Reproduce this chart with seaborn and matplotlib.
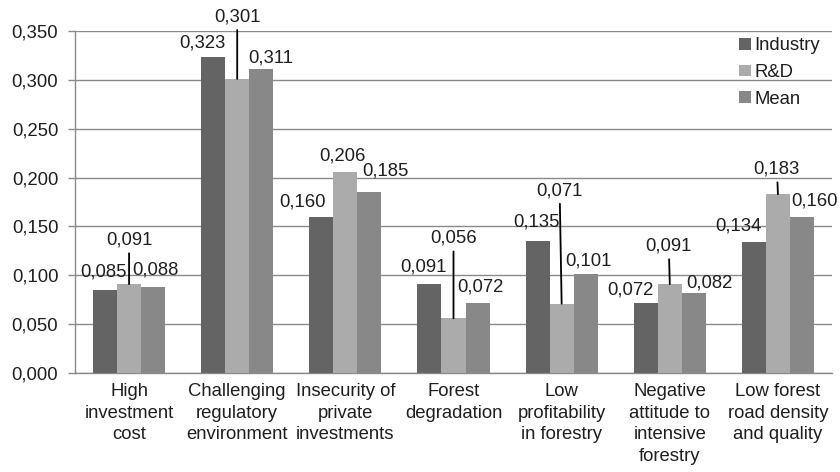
import matplotlib
matplotlib.use("Agg")
import matplotlib.pyplot as plt
from matplotlib.ticker import FuncFormatter, FixedLocator
import seaborn as sns
import pandas as pd

# Barrier categories and scores per respondent group
categories = [
    "High\ninvestment\ncost",
    "Challenging\nregulatory\nenvironment",
    "Insecurity of\nprivate\ninvestments",
    "Forest\ndegradation",
    "Low\nprofitability\nin forestry",
    "Negative\nattitude to\nintensive\nforestry",
    "Low forest\nroad density\nand quality",
]
series = ["Industry", "R&D", "Mean"]
industry = [0.085, 0.323, 0.160, 0.091, 0.135, 0.072, 0.134]
rnd = [0.091, 0.301, 0.206, 0.056, 0.071, 0.091, 0.183]
mean = [0.088, 0.311, 0.185, 0.072, 0.101, 0.082, 0.160]
y_ticks = [0.0, 0.05, 0.10, 0.15, 0.20, 0.25, 0.30, 0.35]

colors = ["#646464", "#ababab", "#888888"]

# Label placement (pixel offsets of each value label from its bar top)
label_offsets = {
    "Industry": [(-2, 18), (-11, 14), (-19, 15), (-6, 17), (-1, 19), (-15, 13), (-15, 16)],
    "R&D": [(0, 44), (0, 62), (-3, 16), (0, 80), (-2, 113), (-1, 38), (-1, 25)],
    "Mean": [(2, 17), (10, 11), (16, 21), (3, 16), (3, 13), (16, 10), (13, 16)],
}
leader = {"Industry": [False] * 7,
          "R&D": [True, True, False, True, True, True, True],
          "Mean": [False] * 7}

values = {"Industry": industry, "R&D": rnd, "Mean": mean}
df = pd.DataFrame({
    "category": categories * 3,
    "series": [s for s in series for _ in categories],
    "value": industry + rnd + mean,
})

sns.set_theme(style="white")
plt.rcParams["font.family"] = ["Liberation Sans", "DejaVu Sans"]
text_color = "#1e1e1e"
grid_color = "#8a8a8a"
fs = 13.3

fig = plt.figure(figsize=(8.4, 4.72), dpi=100)
ax = fig.add_axes([75 / 840, 1 - 373 / 472, 757 / 840, 342 / 472])

sns.barplot(data=df, x="category", y="value", hue="series", hue_order=series,
            order=categories, palette=colors, saturation=1, width=0.666,
            errorbar=None, ax=ax, linewidth=0, zorder=3)

ax.set_ylim(0, 0.35)
ax.set_xlim(-0.5, len(categories) - 0.5)
ax.yaxis.set_major_locator(FixedLocator(y_ticks))
ax.yaxis.set_major_formatter(FuncFormatter(lambda v, _: f"{v:.3f}".replace(".", ",")))
ax.grid(axis="y", color=grid_color, linewidth=1.0, zorder=0)
ax.set_axisbelow(True)
ax.set_xlabel("")
ax.set_ylabel("")

for side in ("top", "right"):
    ax.spines[side].set_visible(False)
for side in ("left", "bottom"):
    ax.spines[side].set_color(grid_color)
    ax.spines[side].set_linewidth(1.0)

# Tick marks sit on the category boundaries; labels stay centred
ax.set_xticks(range(len(categories)))
ax.set_xticklabels(categories, fontsize=fs, color=text_color, linespacing=1.37)
ax.set_xticks([i - 0.5 for i in range(len(categories) + 1)], minor=True)
ax.tick_params(axis="x", which="major", length=0, pad=7)
ax.tick_params(axis="x", which="minor", length=5, color=grid_color, width=1.0)
ax.tick_params(axis="y", length=5, color=grid_color, width=1.0, labelsize=fs,
               labelcolor=text_color, pad=7, left=True)

# Value labels
for cont, name in zip(ax.containers, series):
    for i, bar in enumerate(cont):
        v = values[name][i]
        x = bar.get_x() + bar.get_width() / 2
        dx, dy = label_offsets[name][i]
        txt = f"{v:.3f}".replace(".", ",")
        kw = dict(xy=(x, v), xytext=(dx, dy), textcoords="offset pixels",
                  ha="center", va="center", fontsize=fs, color=text_color,
                  annotation_clip=False, zorder=5)
        if leader[name][i]:
            kw["arrowprops"] = dict(arrowstyle="-", color="black", lw=1.3,
                                    shrinkA=1, shrinkB=0)
        ax.annotate(txt, **kw)

handles, labels = ax.get_legend_handles_labels()
ax.legend(handles, labels, loc="upper left", bbox_to_anchor=(0.868, 1.003),
          frameon=False, fontsize=fs, handlelength=0.6, handleheight=0.6,
          handletextpad=0.2, labelspacing=0.52, labelcolor=text_color,
          borderaxespad=0)

fig.savefig("out.png", dpi=100)
